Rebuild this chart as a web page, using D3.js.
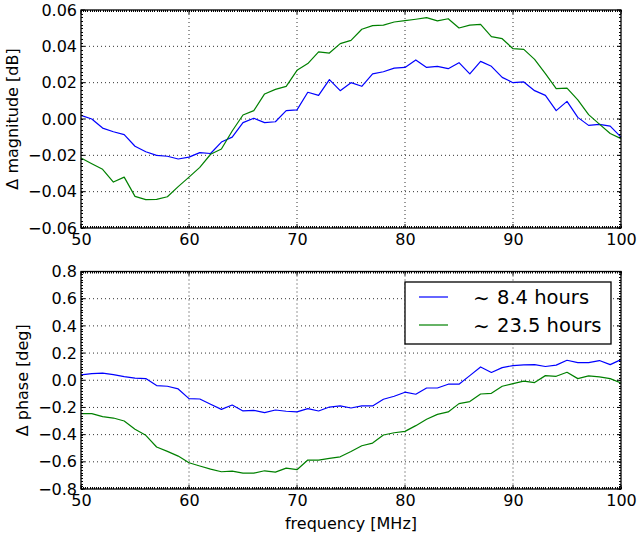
<!DOCTYPE html>
<html><head><meta charset="utf-8">
<script src="https://cdn.jsdelivr.net/npm/d3@7"></script>
<style>body{margin:0;background:#fff;} svg{display:block;font-family:"DejaVu Sans",sans-serif;}</style>
</head><body>
<svg id="c" width="640" height="533"></svg>
<script>
const freq = d3.range(50, 101, 1);
const magShort = [0.002,0.000,-0.005,-0.007,-0.0086,-0.015,-0.018,-0.020,-0.0205,-0.022,-0.021,-0.0185,-0.019,-0.0127,-0.010,-0.002,0.0004,-0.002,-0.0015,0.0046,0.005,0.0147,0.013,0.0217,0.0156,0.020,0.018,0.0248,0.026,0.028,0.0284,0.0325,0.0284,0.029,0.0277,0.031,0.0248,0.0317,0.029,0.0229,0.020,0.0204,0.0156,0.013,0.0046,0.0097,0.0009,-0.0035,-0.003,-0.0039,-0.010];
const magLong = [-0.0215,-0.0246,-0.0277,-0.0347,-0.032,-0.0426,-0.0444,-0.0442,-0.0428,-0.0372,-0.032,-0.0266,-0.0194,-0.0165,-0.0066,0.0022,0.0046,0.0138,0.0163,0.018,0.0268,0.0305,0.037,0.0363,0.0415,0.0433,0.0494,0.0514,0.0517,0.0534,0.0541,0.0549,0.0558,0.054,0.0552,0.0501,0.0517,0.0521,0.0453,0.0442,0.0387,0.0383,0.0328,0.025,0.0167,0.017,0.0105,0.0024,-0.0028,-0.008,-0.0108];
const phaseShort = [0.039,0.049,0.052,0.042,0.027,0.015,0.012,-0.039,-0.044,-0.064,-0.135,-0.138,-0.177,-0.214,-0.182,-0.226,-0.221,-0.238,-0.219,-0.228,-0.233,-0.209,-0.226,-0.197,-0.189,-0.204,-0.189,-0.189,-0.140,-0.118,-0.088,-0.103,-0.057,-0.057,-0.029,-0.029,0.034,0.098,0.057,0.093,0.108,0.113,0.115,0.101,0.111,0.147,0.130,0.130,0.145,0.115,0.152];
const phaseLong = [-0.246,-0.246,-0.268,-0.278,-0.300,-0.361,-0.405,-0.491,-0.523,-0.558,-0.607,-0.631,-0.654,-0.673,-0.668,-0.683,-0.683,-0.666,-0.676,-0.646,-0.658,-0.587,-0.587,-0.575,-0.563,-0.524,-0.482,-0.462,-0.403,-0.386,-0.376,-0.334,-0.287,-0.251,-0.233,-0.172,-0.157,-0.101,-0.096,-0.044,-0.025,-0.007,-0.017,0.034,0.029,0.059,0.012,0.032,0.025,0.012,-0.020];
const xTicks = [50,60,70,80,90,100];
const magTicks = [-0.06,-0.04,-0.02,0.00,0.02,0.04,0.06];
const phaseTicks = [-0.8,-0.6,-0.4,-0.2,0.0,0.2,0.4,0.6,0.8];
const seriesNames = ["8.4 hours", "23.5 hours"];
const colors = ["#0000ff", "#008000"];

const svg = d3.select("#c");
const L = 81, R = 621;
const FS = 16;
const x = d3.scaleLinear().domain([50,100]).range([L,R]);
const fmtMinus = s => s.replace("-", "\u2212");

function panel(top, bottom, domain, ticks, minorStep, fmt, ylabel, ylabelX, data, legend, xlabel) {
  const y = d3.scaleLinear().domain(domain).range([bottom, top]);
  const g = svg.append("g");
  g.selectAll(".gx").data(xTicks.slice(1,-1)).join("line")
    .attr("x1", d=>x(d)).attr("x2", d=>x(d)).attr("y1", top).attr("y2", bottom)
    .attr("stroke","#000").attr("stroke-width",1).attr("stroke-dasharray","1,3").attr("opacity",0.8);
  g.selectAll(".gy").data(ticks.slice(1,-1)).join("line")
    .attr("y1", d=>y(d)).attr("y2", d=>y(d)).attr("x1", L).attr("x2", R)
    .attr("stroke","#000").attr("stroke-width",1).attr("stroke-dasharray","1,3").attr("opacity",0.8);
  const line = d3.line().x((d,i)=>x(freq[i])).y(d=>y(d));
  data.forEach((s,k)=>{
    g.append("path").datum(s).attr("d", line).attr("fill","none")
      .attr("stroke", colors[k]).attr("stroke-width",1.2).attr("stroke-linejoin","round");
  });
  const xm = d3.range(50, 100.001, 0.2);
  const ym = d3.range(domain[0], domain[1]+1e-9, minorStep);
  const tk = g.append("g").attr("stroke","#000").attr("stroke-width",1);
  xm.forEach(v=>{
    const xx = Math.round(x(v))+0.5;
    tk.append("line").attr("x1",xx).attr("x2",xx).attr("y1",bottom).attr("y2",bottom-2);
    tk.append("line").attr("x1",xx).attr("x2",xx).attr("y1",top).attr("y2",top+2);
  });
  ym.forEach(v=>{
    const yy = Math.round(y(v))+0.5;
    tk.append("line").attr("x1",L).attr("x2",L+2).attr("y1",yy).attr("y2",yy);
    tk.append("line").attr("x1",R).attr("x2",R-2).attr("y1",yy).attr("y2",yy);
  });
  xTicks.forEach(v=>{
    tk.append("line").attr("x1",x(v)).attr("x2",x(v)).attr("y1",bottom).attr("y2",bottom-4);
    tk.append("line").attr("x1",x(v)).attr("x2",x(v)).attr("y1",top).attr("y2",top+4);
  });
  ticks.forEach(v=>{
    tk.append("line").attr("x1",L).attr("x2",L+4).attr("y1",y(v)).attr("y2",y(v));
    tk.append("line").attr("x1",R).attr("x2",R-4).attr("y1",y(v)).attr("y2",y(v));
  });
  g.append("rect").attr("x",L).attr("y",top).attr("width",R-L).attr("height",bottom-top)
    .attr("fill","none").attr("stroke","#000").attr("stroke-width",1.3);
  const ya = d3.axisLeft(y).tickValues(ticks).tickFormat(d=>fmtMinus(fmt(d))).tickSize(0).tickPadding(4);
  const yg = g.append("g").attr("transform",`translate(${L},0)`).call(ya);
  yg.select(".domain").remove();
  yg.selectAll("text").attr("font-size",FS).attr("font-family","DejaVu Sans").attr("fill","#000");
  const xa = d3.axisBottom(x).tickValues(xTicks).tickFormat(d3.format("d")).tickSize(0).tickPadding(6);
  const xg = g.append("g").attr("transform",`translate(0,${bottom})`).call(xa);
  xg.select(".domain").remove();
  xg.selectAll("text").attr("font-size",FS).attr("font-family","DejaVu Sans").attr("fill","#000");
  g.append("text").attr("transform",`translate(${ylabelX},${(top+bottom)/2}) rotate(-90)`)
    .attr("text-anchor","middle").attr("dominant-baseline","central").attr("font-size",FS).text(ylabel);
  if (xlabel) {
    g.append("text").attr("x",(L+R)/2).attr("y",bottom+40).attr("text-anchor","middle")
      .attr("font-size",FS).text(xlabel);
  }
  if (legend) {
    const lg = g.append("g");
    lg.append("rect").attr("x",405).attr("y",282).attr("width",206).attr("height",62)
      .attr("fill","#fff").attr("stroke","#000").attr("stroke-width",1.3);
    seriesNames.forEach((n,k)=>{
      const yy = 297 + k*28;
      lg.append("line").attr("x1",419).attr("x2",448).attr("y1",yy).attr("y2",yy)
        .attr("stroke",colors[k]).attr("stroke-width",1.2);
      lg.append("text").attr("x",473).attr("y",yy+1).attr("dominant-baseline","central")
        .attr("font-size",20).attr("font-family","DejaVu Serif").text("\u223c");
      lg.append("text").attr("x",497).attr("y",yy).attr("dominant-baseline","central")
        .attr("font-size",19.5).text(n);
    });
  }
}

panel(10, 228, [-0.06,0.06], magTicks, 0.002, d3.format(".2f"), "\u0394 magnitude [dB]", 12, [magShort, magLong], false, null);
panel(271.5, 489, [-0.8,0.8], phaseTicks, 0.02, d3.format(".1f"), "\u0394 phase [deg]", 22, [phaseShort, phaseLong], true, "frequency [MHz]");
</script>
</body></html>
